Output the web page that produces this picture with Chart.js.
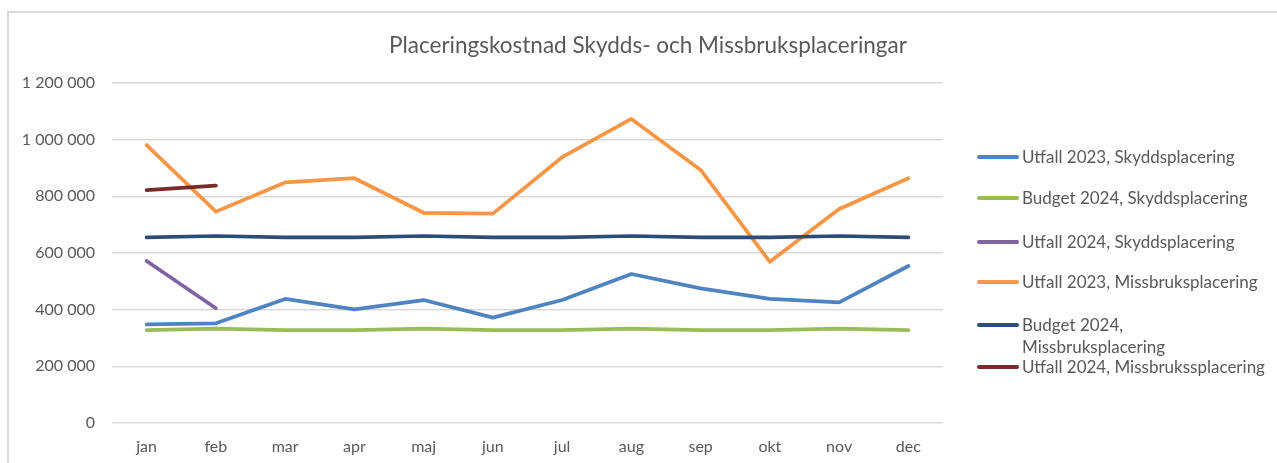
<!DOCTYPE html>
<html>
<head>
<meta charset="utf-8">
<script src="https://cdn.jsdelivr.net/npm/chart.js@4"></script>
<style>
  html, body { margin: 0; padding: 0; background: #fff; }
  #wrap { position: relative; width: 1277px; height: 463px; overflow: hidden; }
  #frame { position: absolute; left: 7px; top: 11px; right: -10px; bottom: -10px;
           border-left: 2px solid #d9d9d9; border-top: 2px solid #d9d9d9; }
  #myChart { position: absolute; left: 0; top: 0; }
  #title { position: absolute; left: 348px; width: 600px; top: 31px; text-align: center;
           font-family: Lato, "Open Sans", sans-serif; font-size: 22.5px; line-height: 28px;
           color: #595959; white-space: nowrap; }
  #legend { position: absolute; left: 977px; top: 0; font-family: Lato, "Open Sans", sans-serif;
            font-size: 17px; color: #595959; }
  .item { position: absolute; left: 0; white-space: nowrap; }
  .swatch { position: absolute; left: 0; width: 42px; height: 4px; border-radius: 2px; }
  .txt { position: absolute; left: 45px; line-height: 22px; }
</style>
</head>
<body>
<div id="wrap">
  <div id="frame"></div>
  <canvas id="myChart" width="1277" height="463"></canvas>
  <div id="title">Placeringskostnad Skydds- och Missbruksplaceringar</div>
  <div id="legend"></div>
</div>
<script>
var months = ['jan', 'feb', 'mar', 'apr', 'maj', 'jun', 'jul', 'aug', 'sep', 'okt', 'nov', 'dec'];

var utfall2023Skydd = [348000, 352000, 438000, 401000, 434000, 372000, 434000, 526000, 475000, 438000, 426000, 554000];
var budget2024Skydd = [328000, 333000, 328000, 328000, 333000, 328000, 328000, 333000, 328000, 328000, 333000, 328000];
var utfall2024Skydd = [572000, 405000];
var utfall2023Missbruk = [981000, 746000, 849000, 864000, 742000, 739000, 938000, 1073000, 893000, 569000, 755000, 864000];
var budget2024Missbruk = [655000, 660000, 655000, 655000, 660000, 655000, 655000, 660000, 655000, 655000, 660000, 655000];
var utfall2024Missbruk = [822000, 838000];

var seriesNames = [
    'Utfall 2023, Skyddsplacering',
    'Budget 2024, Skyddsplacering',
    'Utfall 2024, Skyddsplacering',
    'Utfall 2023, Missbruksplacering',
    'Budget 2024, Missbruksplacering',
    'Utfall 2024, Missbruksplacering'
];
// legend text as it is wrapped in the original
var legendText = [
    'Utfall 2023, Skyddsplacering',
    'Budget 2024, Skyddsplacering',
    'Utfall 2024, Skyddsplacering',
    'Utfall 2023, Missbruksplacering',
    'Budget 2024,<br>Missbruksplacering',
    'Utfall 2024, Missbrukssplacering'
];
var seriesColors = ['#4f83c2', '#9bbb59', '#8064a2', '#f79646', '#2c4d75', '#772c2a'];
var seriesData = [utfall2023Skydd, budget2024Skydd, utfall2024Skydd, utfall2023Missbruk, budget2024Missbruk, utfall2024Missbruk];

var fontFamily = 'Lato, "Open Sans", sans-serif';

var datasets = [];
for (var i = 0; i < seriesData.length; i++) {
    datasets.push({
        label: seriesNames[i],
        data: seriesData[i],
        borderColor: seriesColors[i],
        backgroundColor: seriesColors[i],
        borderWidth: 3.75,
        borderCapStyle: 'round',
        borderJoinStyle: 'round',
        pointRadius: 0,
        tension: 0,
        fill: false
    });
}
// draw order: later datasets on top like excel
datasets.forEach(function (d, idx) { d.order = datasets.length - idx; });

var ctx = document.getElementById('myChart').getContext('2d');
var myChart = new Chart(ctx, {
    type: 'line',
    data: { labels: months, datasets: datasets },
    options: {
        responsive: false,
        animation: false,
        layout: { padding: { left: 0, right: 334, top: 83, bottom: 0 } },
        plugins: {
            legend: { display: false },
            tooltip: { enabled: false },
            title: { display: false }
        },
        scales: {
            x: {
                offset: true,
                grid: { display: false, drawTicks: false },
                border: { display: false },
                ticks: {
                    color: '#595959',
                    font: { family: fontFamily, size: 16 },
                    padding: 14,
                    maxRotation: 0
                },
                afterFit: function (scale) { scale.height = 40; }
            },
            y: {
                min: 0,
                max: 1200000,
                grid: { color: '#d9d9d9', lineWidth: 1.5, drawTicks: false },
                border: { display: false },
                ticks: {
                    stepSize: 200000,
                    color: '#595959',
                    font: { family: fontFamily, size: 16 },
                    padding: 17,
                    callback: function (v) {
                        return String(v).replace(/\B(?=(\d{3})+(?!\d))/g, ' ');
                    }
                },
                afterFit: function (scale) { scale.width = 112; }
            }
        }
    }
});

// html legend on the right
var legend = document.getElementById('legend');
var legendTops = [146, 187, 231, 271, 314, 356];
for (var i = 0; i < seriesNames.length; i++) {
    var item = document.createElement('div');
    item.className = 'item';
    item.style.top = legendTops[i] + 'px';
    item.innerHTML = '<div class="swatch" style="top:9px;background:' + seriesColors[i] + '"></div>' +
        '<div class="txt">' + legendText[i] + '</div>';
    legend.appendChild(item);
}
</script>
</body>
</html>
